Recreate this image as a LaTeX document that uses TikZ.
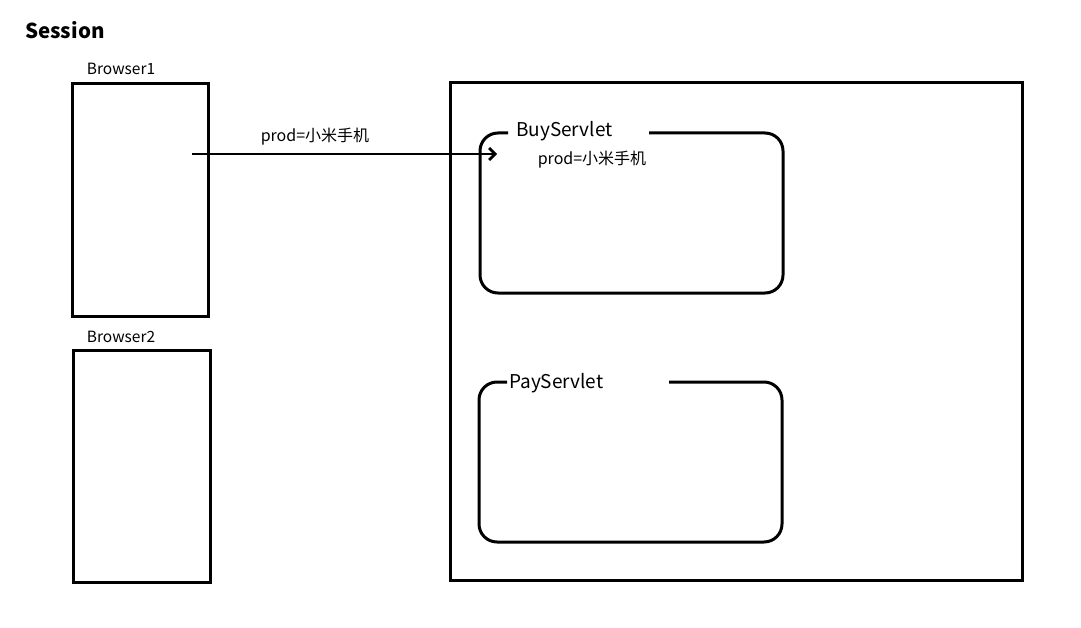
\documentclass[tikz,border=0pt]{standalone}
\usetikzlibrary{arrows.meta}
\usepackage{fontspec}
\setmainfont{Noto Sans CJK SC}
\begin{document}
\begin{tikzpicture}[x=1pt,y=-1pt,
  box/.style={draw,line width=3pt,inner sep=0pt},
  lbl/.style={inner sep=0pt,font=\fontsize{15.5}{18}\selectfont},
  plbl/.style={inner sep=0pt,font=\fontsize{16}{18}\selectfont},
  slbl/.style={inner sep=0pt,anchor=west,font=\fontsize{19}{22}\selectfont},
  frame/.style={line width=3pt,rounded corners=18pt}]
\useasboundingbox (0,0) rectangle (1081,628);
\node[inner sep=0pt,anchor=west,font=\fontsize{20.5}{24}\bfseries] (title) at (25,30) {Session};
% browsers
\node[box,minimum width=136pt,minimum height=232pt] (b1) at (140,200) {};
\node[lbl] (b1l) at (121,69) {Browser1};
\node[box,minimum width=137pt,minimum height=232pt] (b2) at (141.5,466) {};
\node[lbl] (b2l) at (121,337) {Browser2};
% server
\node[box,minimum width=572pt,minimum height=497pt] (srv) at (736,331.5) {};
% BuyServlet
\node[slbl] (buy) at (516,131) {BuyServlet};
\draw[frame] (508,133) -- (480,133) -- (480,293) -- (783,293) -- (783,133) -- (649,133);
\node[plbl] (buyp) at (592,160) {prod=小米手机};
% PayServlet
\node[slbl] (pay) at (509,383) {PayServlet};
\draw[frame] (507,382) -- (479,382) -- (479,542) -- (782,542) -- (782,382) -- (669,382);
% arrow
\coordinate (as) at (192,154);
\coordinate (ae) at (497,154);
\draw[line width=2.8pt,-{Straight Barb[length=6pt,width=12pt]}] (as) -- (ae);
\node[plbl] (al) at (315,137) {prod=小米手机};
\end{tikzpicture}
\end{document}
